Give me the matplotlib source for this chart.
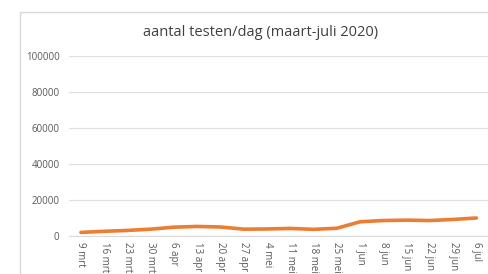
import matplotlib.pyplot as plt
from matplotlib.patches import Rectangle

# weekly test counts
weeks = ['9 mrt', '16 mrt', '23 mrt', '30 mrt', '6 apr', '13 apr', '20 apr',
         '27 apr', '4 mei', '11 mei', '18 mei', '25 mei', '1 jun', '8 jun',
         '15 jun', '22 jun', '29 jun', '6 jul']
tests = [2000, 2600, 3100, 3800, 4900, 5300, 5000, 3800, 3900, 4200,
         3700, 4300, 7900, 8600, 8800, 8600, 9200, 10000]
yticks = [0, 20000, 40000, 60000, 80000, 100000]

plt.rcParams['font.family'] = ['Open Sans', 'DejaVu Sans']

fig = plt.figure(figsize=(4.88, 2.74), dpi=100)
fig.patch.set_facecolor('white')

# chart border (cut off at right and bottom)
fig.patches.append(Rectangle((20 / 488, -0.1), 1.0, 0.1 + 1 - 12 / 274,
                             transform=fig.transFigure, fill=False,
                             edgecolor='#d9d9d9', linewidth=1.0))

ax = fig.add_axes([0.142, 1 - 236 / 274, 0.858, 180 / 274])
x = list(range(len(weeks)))
ax.plot(x, tests, color='#ed7d31', linewidth=2.6, solid_capstyle='round')

ax.set_xlim(-0.5, len(weeks) - 0.5)
ax.set_ylim(0, 100000)
ax.set_yticks(yticks)
ax.set_yticklabels([str(v) for v in yticks])
ax.set_xticks(x)
ax.set_xticklabels(weeks, rotation=-90, va='top', ha='center')

ax.grid(axis='y', color='#e0e0e0', linewidth=0.9)
ax.set_axisbelow(True)
for s in ['top', 'right', 'left']:
    ax.spines[s].set_visible(False)
ax.spines['bottom'].set_color('#d9d9d9')
ax.tick_params(axis='both', length=0, colors='#595959', labelsize=7)
ax.tick_params(axis='y', pad=7)
ax.tick_params(axis='x', pad=4)

fig.text(0.533, 1 - 32 / 274, 'aantal testen/dag (maart-juli 2020)',
         ha='center', va='center', fontsize=10.5, color='#404040')

fig.savefig('out.png', dpi=100, facecolor='white')
